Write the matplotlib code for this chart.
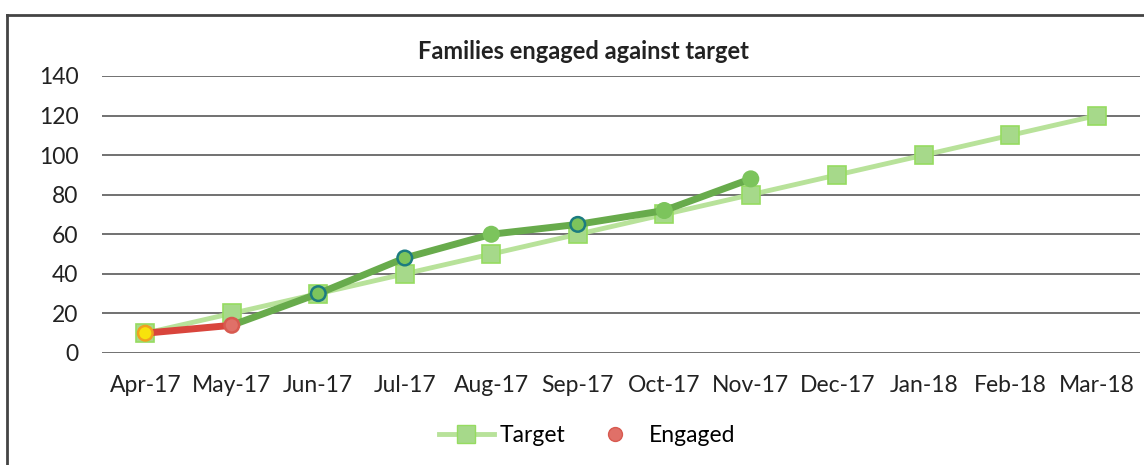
import matplotlib.pyplot as plt
from matplotlib.lines import Line2D

months = ['Apr-17', 'May-17', 'Jun-17', 'Jul-17', 'Aug-17', 'Sep-17',
          'Oct-17', 'Nov-17', 'Dec-17', 'Jan-18', 'Feb-18', 'Mar-18']
target = [10, 20, 30, 40, 50, 60, 70, 80, 90, 100, 110, 120]
engaged = [10, 14, 30, 48, 60, 65, 72, 88]

# marker colours of the engaged points (RAG style)
eng_face = ['#f7e20c', '#e07068', '#7cc45c', '#7cc45c', '#7cc45c', '#7cc45c', '#7cc45c', '#7cc45c']
eng_edge = ['#f0a020', '#d85a50', '#1c7c80', '#1c7c80', '#7cc45c', '#1c7c80', '#7cc45c', '#7cc45c']

plt.rcParams['font.family'] = ['Lato', 'DejaVu Sans']

fig = plt.figure(figsize=(11.44, 4.65), dpi=100)
ax = fig.add_axes([0.0892, 0.2409, 0.9073, 0.5957])

x = list(range(len(months)))
xe = x[:len(engaged)]

ax.plot(x, target, color='#b8e29a', linewidth=3.5, marker='s', markersize=13,
        markerfacecolor='#a6d98a', markeredgecolor='#96dc60', markeredgewidth=1.2, zorder=3)
ax.plot(xe[1:], engaged[1:], color='#68ab4c', linewidth=5, zorder=4)
ax.plot(xe[:2], engaged[:2], color='#d9453c', linewidth=5, zorder=4)
ax.scatter(xe, engaged, s=110, c=eng_face, edgecolors=eng_edge, linewidths=1.8, zorder=5)

ax.set_xlim(-0.5, len(months) - 0.5)
ax.set_ylim(0, 140)
ax.set_yticks(range(0, 141, 20))
ax.set_xticks(x)
ax.set_xticklabels(months)
ax.tick_params(axis='both', length=0, labelsize=16.5, colors='#222222')
ax.tick_params(axis='x', pad=16)
ax.tick_params(axis='y', pad=17)
ax.grid(axis='y', color='#666666', linewidth=1.3)
ax.set_axisbelow(True)
for s in ax.spines.values():
    s.set_visible(False)

fig.text(0.51, 0.89, 'Families engaged against target', ha='center', va='center',
         fontsize=17, fontweight='bold', color='#222222')

handles = [
    Line2D([], [], color='#b8e29a', linewidth=3.5, marker='s', markersize=13,
           markerfacecolor='#a6d98a', markeredgecolor='#96dc60'),
    Line2D([], [], linestyle='none', marker='o', markersize=10,
           markerfacecolor='#e07068', markeredgecolor='#d85a50'),
]
fig.legend(handles, ['Target', 'Engaged'], loc='center', bbox_to_anchor=(0.513, 0.064),
           ncol=2, frameon=False, fontsize=16.5, handlelength=2.4, columnspacing=1.0,
           handletextpad=0.25)

# chart frame (scanned box)
fig.add_artist(Line2D([7 / 1144, 7 / 1144], [0, 1 - 15 / 465], color='#444444', linewidth=2))
fig.add_artist(Line2D([7 / 1144, 1], [1 - 15 / 465, 1 - 15 / 465], color='#444444', linewidth=2))

fig.savefig('out.png', dpi=100)
